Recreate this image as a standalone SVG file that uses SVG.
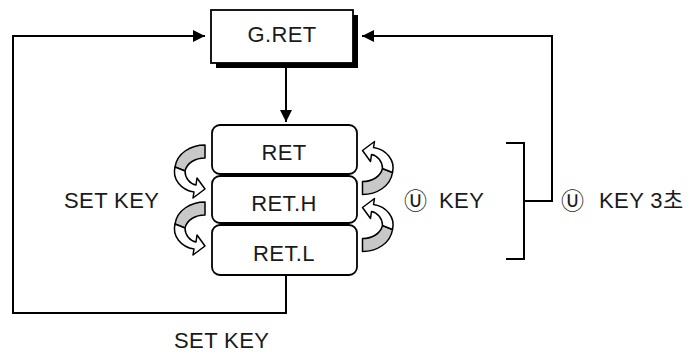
<svg xmlns="http://www.w3.org/2000/svg" xmlns:xlink="http://www.w3.org/1999/xlink" width="690" height="356" viewBox="0 0 690 356">
<style>
.t{font-family:"Liberation Sans","Noto Sans CJK KR",sans-serif;font-size:22px;fill:#1a1a1a;letter-spacing:0.4px}
.c{font-family:"Noto Sans CJK KR","DejaVu Sans",sans-serif;font-size:23px;fill:#1a1a1a}
.ln{fill:none;stroke:#000;stroke-width:2}
.box{fill:#fff;stroke:#000;stroke-width:1.8}
.g{fill:#c8c8c8;stroke:#000;stroke-width:1.5;stroke-linejoin:round}
.w{fill:#fff;stroke:#000;stroke-width:1.5;stroke-linejoin:round}
</style>
<defs>
<marker id="ah" markerWidth="12" markerHeight="12" refX="12" refY="6" orient="auto" markerUnits="userSpaceOnUse">
<path d="M0,0 L12,6 L0,12 Z" fill="#000"/>
</marker>
<g id="curl">
<path class="g" d="M0,0 C-14,0 -28,8 -30,22 L-20,26 C-18,18 -10,13 0,13 Z"/>
<path class="w" d="M-30,22 C-33,34 -24,45 -11,47 L-12,53 L0,44 L-8,33 L-9,40 C-15,39 -20,33 -20,26 Z"/>
</g>
</defs>
<g id="connectors">
<path class="ln" d="M286,68 V122" marker-end="url(#ah)"/>
<path class="ln" d="M286,275 V313 H13 V36 H205" marker-end="url(#ah)"/>
<path class="ln" d="M506,143 H524 V259 H506"/>
<path class="ln" d="M524,201 H552 V36 H362" marker-end="url(#ah)"/>
</g>
<g id="gret">
<rect x="216" y="15" width="142" height="53" fill="#000"/>
<rect class="box" x="211" y="10" width="142" height="53"/>
<text class="t" x="282" y="42" text-anchor="middle" letter-spacing="1">G.RET</text>
</g>
<g id="ret">
<rect class="box" x="212" y="125" width="145" height="49" rx="8"/>
<text class="t" x="284" y="160" text-anchor="middle">RET</text>
</g>
<g id="reth">
<rect class="box" x="212" y="176" width="145" height="47" rx="8"/>
<text class="t" x="284" y="211" text-anchor="middle">RET.H</text>
</g>
<g id="retl">
<rect class="box" x="212" y="225" width="145" height="50" rx="8"/>
<text class="t" x="284" y="261" text-anchor="middle">RET.L</text>
</g>
<g id="curls">
<use xlink:href="#curl" transform="translate(205,145)"/>
<use xlink:href="#curl" transform="translate(205,202)"/>
<use xlink:href="#curl" transform="translate(362.5,194.5) rotate(180)"/>
<use xlink:href="#curl" transform="translate(362.5,251.5) rotate(180)"/>
</g>
<g id="labels">
<text class="t" x="64" y="208">SET KEY</text>
<text class="t" x="174" y="348">SET KEY</text>
<text class="c" x="404" y="209">Ⓤ</text>
<text class="t" x="439" y="208">KEY</text>
<text class="c" x="561" y="209">Ⓤ</text>
<text class="t" x="599" y="208">KEY 3초</text>
</g>
</svg>
